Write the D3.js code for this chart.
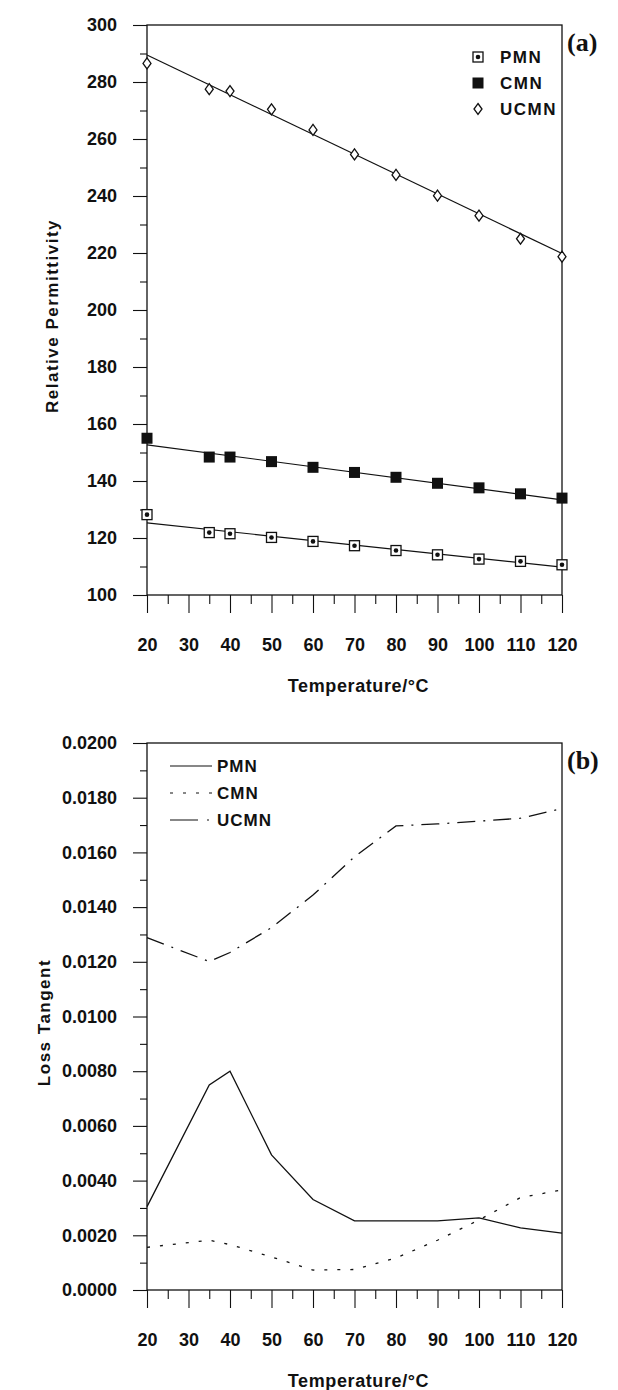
<!DOCTYPE html>
<html>
<head>
<meta charset="utf-8">
<script src="https://cdn.jsdelivr.net/npm/d3@7"></script>
<style>
  body { margin: 0; background: #fff; }
  svg text { fill: #111; }
  .lbl { font-family: 'Liberation Sans', Arial, sans-serif; font-weight: bold; }
  .tag { font-family: 'Liberation Serif', 'DejaVu Serif', serif; font-weight: bold; font-size: 26px; }
</style>
</head>
<body>
<div id="chart"></div>
<script>
// temperatures (deg C) shared by both panels
const temps = [20, 35, 40, 50, 60, 70, 80, 90, 100, 110, 120]

// (a) relative permittivity
const permPMN  = [128.2, 121.9, 121.5, 120.2, 118.8, 117.3, 115.6, 114.1, 112.6, 111.8, 110.6]
const permCMN  = [155.0, 148.4, 148.4, 146.8, 144.8, 143.0, 141.3, 139.2, 137.6, 135.5, 134.0]
const permUCMN = [286.5, 277.5, 276.8, 270.4, 263.2, 254.6, 247.4, 240.1, 233.1, 225.0, 218.7]
// straight fit lines, end values at 20 and 120
const fitTemps = [20, 120]
const fitPMN  = [125.3, 109.8]
const fitCMN  = [152.7, 133.4]
const fitUCMN = [289.5, 219.8]

// (b) loss tangent
const lossPMN  = [0.00305, 0.0075, 0.0080, 0.00494, 0.00331, 0.00253, 0.00253, 0.00253, 0.00264, 0.00227, 0.00208]
const lossCMN  = [0.00156, 0.00182, 0.00166, 0.00121, 0.00073, 0.00075, 0.00117, 0.00182, 0.00256, 0.00338, 0.00366]
const lossUCMN = [0.01288, 0.01201, 0.01234, 0.01325, 0.01444, 0.01584, 0.01697, 0.01704, 0.01714, 0.01725, 0.01760]

const xTicks = [20, 30, 40, 50, 60, 70, 80, 90, 100, 110, 120]
const permTicks = [100, 120, 140, 160, 180, 200, 220, 240, 260, 280, 300]
const lossTicks = [0, 0.002, 0.004, 0.006, 0.008, 0.010, 0.012, 0.014, 0.016, 0.018, 0.020]
const seriesNames = ['PMN', 'CMN', 'UCMN']

const W = 618, H = 1390
const left = 147, right = 562
const ink = '#111'

const svg = d3.select('#chart').append('svg')
  .attr('width', W).attr('height', H)

function panel(top, bottom, yDomain, yTicks, yMinorStep, yFormat, yTitle, titleX, tag) {
  const x = d3.scaleLinear().domain([20, 120]).range([left, right])
  const y = d3.scaleLinear().domain(yDomain).range([bottom, top])
  const g = svg.append('g')

  // frame
  g.append('rect')
    .attr('x', left).attr('y', top)
    .attr('width', right - left).attr('height', bottom - top)
    .attr('fill', 'none').attr('stroke', ink).attr('stroke-width', 1.3)

  // minor ticks
  const xMinor = d3.range(25, 120, 10)
  g.append('g').attr('transform', `translate(0,${bottom})`)
    .call(d3.axisBottom(x).tickValues(xMinor).tickSize(9).tickFormat(''))
  const yMinor = d3.range(yDomain[0] + yMinorStep, yDomain[1], yMinorStep * 2)
  g.append('g').attr('transform', `translate(${left},0)`)
    .call(d3.axisLeft(y).tickValues(yMinor).tickSize(7).tickFormat(''))

  // major ticks + labels
  g.append('g').attr('transform', `translate(0,${bottom})`)
    .call(d3.axisBottom(x).tickValues(xTicks).tickSize(18).tickPadding(25))
  g.append('g').attr('transform', `translate(${left},0)`)
    .call(d3.axisLeft(y).tickValues(yTicks).tickSize(14).tickPadding(16).tickFormat(yFormat))

  g.selectAll('.domain').remove()
  g.selectAll('.tick line').attr('stroke', ink).attr('stroke-width', 1.1)
  g.selectAll('.tick text').attr('class', 'lbl').style('font-size', '18px').attr('fill', ink)

  // axis titles
  g.append('text').attr('class', 'lbl')
    .attr('x', (left + right) / 2 + 4).attr('y', bottom + 97)
    .attr('text-anchor', 'middle').style('font-size', '18px').style('letter-spacing', '0.6px')
    .text('Temperature/°C')
  g.append('text').attr('class', 'lbl')
    .attr('transform', `translate(${titleX},${(top + bottom) / 2 + 6}) rotate(-90)`)
    .attr('text-anchor', 'middle').style('font-size', '17px').style('letter-spacing', '1.5px')
    .text(yTitle)

  g.append('text').attr('class', 'tag')
    .attr('x', right + 5).attr('y', top + 26)
    .text(tag)

  return { g, x, y }
}

// ---------- (a) ----------
const a = panel(25, 595, [100, 300], permTicks, 10, d3.format('d'), 'Relative  Permittivity', 58, '(a)')

const fitLine = d3.line().x(d => a.x(d[0])).y(d => a.y(d[1]))
;[fitPMN, fitCMN, fitUCMN].forEach(f => {
  a.g.append('path')
    .attr('d', fitLine(d3.zip(fitTemps, f)))
    .attr('fill', 'none').attr('stroke', ink).attr('stroke-width', 1.2)
})

function drawPMN(g, cx, cy) {
  g.append('rect').attr('x', cx - 5).attr('y', cy - 5).attr('width', 10).attr('height', 10)
    .attr('fill', '#fff').attr('stroke', ink).attr('stroke-width', 1.3)
  g.append('circle').attr('cx', cx).attr('cy', cy).attr('r', 2.3).attr('fill', ink)
}
function drawCMN(g, cx, cy) {
  g.append('rect').attr('x', cx - 5.5).attr('y', cy - 5.5).attr('width', 11).attr('height', 11)
    .attr('fill', ink)
}
function drawUCMN(g, cx, cy) {
  g.append('path')
    .attr('d', `M${cx},${cy - 5.5}L${cx + 4},${cy}L${cx},${cy + 5.5}L${cx - 4},${cy}Z`)
    .attr('fill', '#fff').attr('stroke', ink).attr('stroke-width', 1.3)
}

temps.forEach((t, i) => {
  drawPMN(a.g, a.x(t), a.y(permPMN[i]))
  drawCMN(a.g, a.x(t), a.y(permCMN[i]))
  drawUCMN(a.g, a.x(t), a.y(permUCMN[i]))
})

// legend (a)
const legA = [drawPMN, drawCMN, drawUCMN]
seriesNames.forEach((name, i) => {
  const ly = 57 + i * 26
  legA[i](a.g, 478, ly)
  a.g.append('text').attr('class', 'lbl')
    .attr('x', 500).attr('y', ly + 6)
    .style('font-size', '17px').style('letter-spacing', '1.5px')
    .text(name)
})

// ---------- (b) ----------
const b = panel(743, 1290, [0, 0.02], lossTicks, 0.001, d3.format('.4f'), 'Loss  Tangent', 50, '(b)')

const dashes = [null, '3,10', '18,8,2,8']
const lossLine = d3.line().x((d, i) => b.x(temps[i])).y(d => b.y(d))
;[lossPMN, lossCMN, lossUCMN].forEach((s, i) => {
  b.g.append('path')
    .attr('d', lossLine(s))
    .attr('fill', 'none').attr('stroke', ink).attr('stroke-width', 1.3)
    .attr('stroke-dasharray', dashes[i])
})

// legend (b)
const legDash = [null, '3,10', '28,9,2,9']
seriesNames.forEach((name, i) => {
  const ly = 766 + i * 27
  b.g.append('line')
    .attr('x1', 170).attr('x2', 212).attr('y1', ly).attr('y2', ly)
    .attr('stroke', ink).attr('stroke-width', 1.2)
    .attr('stroke-dasharray', legDash[i])
  b.g.append('text').attr('class', 'lbl')
    .attr('x', 217).attr('y', ly + 6)
    .style('font-size', '17px').style('letter-spacing', '1px')
    .text(name)
})
</script>
</body>
</html>
